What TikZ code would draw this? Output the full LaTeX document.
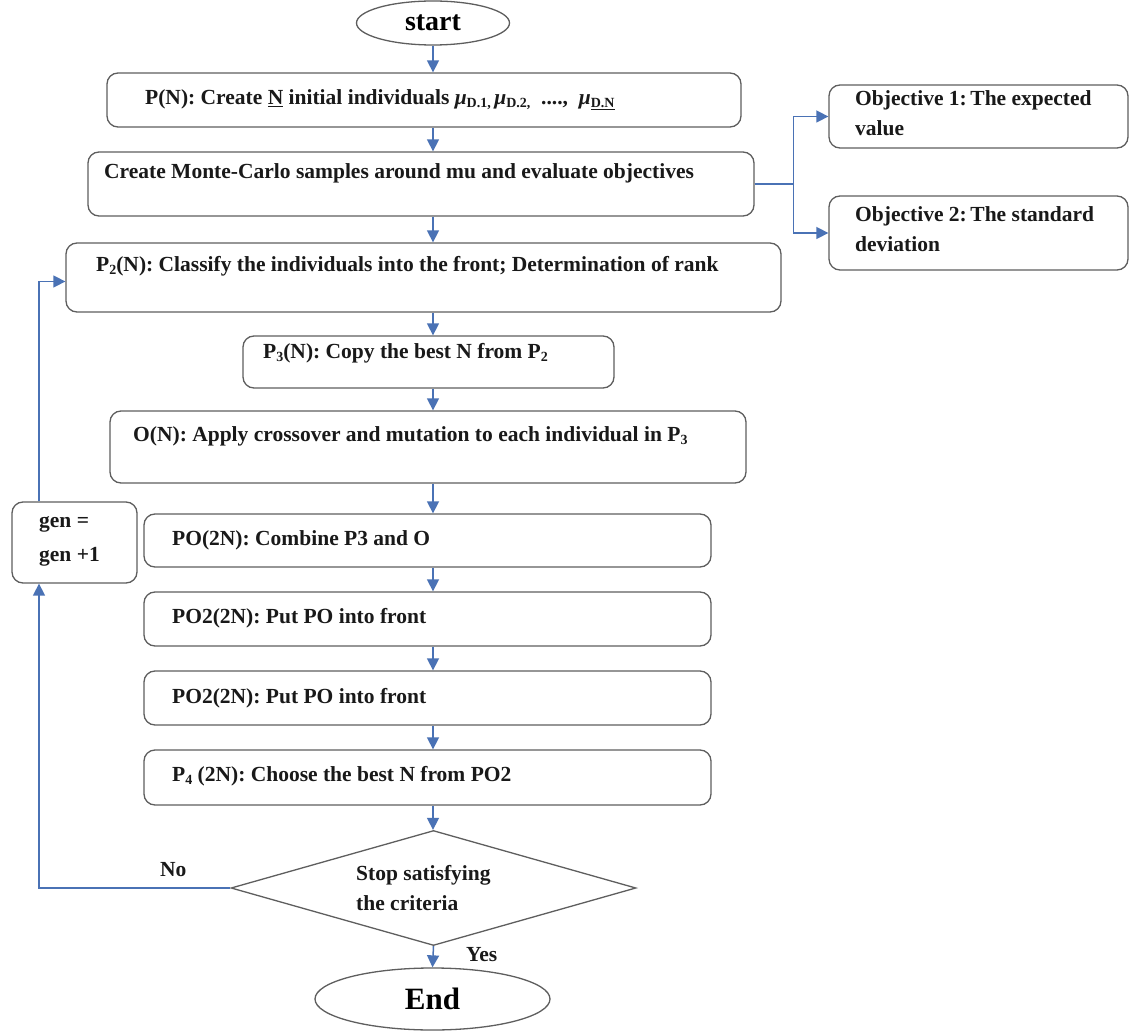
\documentclass[tikz,border=0pt]{standalone}
\usepackage{fontspec}
\setmainfont{Liberation Serif}
\usetikzlibrary{shapes.geometric,arrows.meta}
\definecolor{lnblue}{HTML}{4A72B5}
\definecolor{bxgray}{HTML}{5E5E5E}
\newcommand{\lsub}[1]{\raisebox{-3pt}{\fontsize{14}{14}\selectfont #1}}
\newcommand{\mysub}[1]{{\itshape μ}\raisebox{-3pt}{\fontsize{14}{14}\selectfont #1}}
\tikzset{
  box/.style={draw=bxgray, line width=1.3pt, rounded corners=11pt, inner sep=0pt},
  ell/.style={draw=bxgray, line width=1.3pt, ellipse, inner sep=0pt},
  txt/.style={font=\fontsize{21.5}{30}\selectfont\bfseries, anchor=west, inner sep=0pt, align=left, text=black!90},
  arr/.style={draw=lnblue, line width=1.5pt, -{Triangle[length=12pt,width=12pt]}},
}
\begin{document}
\begin{tikzpicture}[x=1pt,y=-1pt]
\useasboundingbox (0,0) rectangle (1130,1032);
\fill[white] (0,0) rectangle (1130,1032);

\node[ell, minimum width=153pt, minimum height=44pt, font=\fontsize{28}{28}\selectfont\bfseries] (start) at (433,23) {start};
\node[box, minimum width=634pt, minimum height=54pt] (pn) at (424,100) {};
\node[txt] (pnt) at (145,100) {P(N):\ Create \underline{N} initial individuals \mysub{D.1}\lsub{,}\,\mysub{D.2}\lsub{,}\ \ ....,\ \ \mysub{\underline{D.N}}};
\node[box, minimum width=666pt, minimum height=64pt] (mc) at (421,184) {};
\node[txt] (mct) at (104,173) {Create Monte-Carlo samples around mu and evaluate objectives};
\node[box, minimum width=299pt, minimum height=63pt] (obj1) at (978.5,116.5) {};
\node[txt] (obj1t) at (855,113) {Objective 1:\,The expected\\value};
\node[box, minimum width=299pt, minimum height=74pt] (obj2) at (978.5,233) {};
\node[txt] (obj2t) at (855,229) {Objective 2:\,The standard\\deviation};
\node[box, minimum width=715pt, minimum height=69pt] (p2) at (423.5,277.5) {};
\node[txt] (p2t) at (96,266) {P\lsub{2}(N):\ Classify the individuals into the front; Determination of rank};
\node[box, minimum width=371pt, minimum height=52pt] (p3) at (428.5,362) {};
\node[txt] (p3t) at (263,353) {P\lsub{3}(N):\ Copy the best N from P\lsub{2}};
\node[box, minimum width=636pt, minimum height=72pt] (on) at (428,447) {};
\node[txt] (ont) at (133,436) {O(N):\ Apply crossover and mutation to each individual in P\lsub{3}};
\node[box, minimum width=125pt, minimum height=81pt] (gen) at (74.5,542.5) {};
\node[txt, font=\fontsize{21.5}{34}\selectfont\bfseries] (gent) at (39,541) {gen =\\gen +1};
\node[box, minimum width=567pt, minimum height=53pt] (po) at (427.5,540.5) {};
\node[txt] (pot) at (172,540) {PO(2N):\ Combine P3 and O};
\node[box, minimum width=567pt, minimum height=54pt] (poa) at (427.5,619) {};
\node[txt] (poat) at (172,618) {PO2(2N):\ Put PO into front};
\node[box, minimum width=567pt, minimum height=54pt] (pob) at (427.5,698) {};
\node[txt] (pobt) at (172,698) {PO2(2N):\ Put PO into front};
\node[box, minimum width=567pt, minimum height=55pt] (p4) at (427.5,777.5) {};
\node[txt] (p4t) at (172,776) {P\lsub{4} (2N):\ Choose the best N from PO2};
\node[draw=bxgray, line width=1.3pt, diamond, inner sep=0pt, minimum width=405pt, minimum height=115pt] (dia) at (433.5,888) {};
\node[txt] (diat) at (356,888) {Stop satisfying\\the criteria};
\node[ell, minimum width=235pt, minimum height=62pt, font=\fontsize{31}{31}\selectfont\bfseries] (end) at (432.5,999) {End};
\node[txt] (no) at (160,870) {No};
\node[txt] (yes) at (466,955) {Yes};

\coordinate (lx) at (39,0);
\draw[arr] (start.south) -- (start.south |- pn.north);
\draw[arr] (start.south |- pn.south) -- (start.south |- mc.north);
\draw[arr] (start.south |- mc.south) -- (start.south |- p2.north);
\draw[arr] (start.south |- p2.south) -- (start.south |- p3.north);
\draw[arr] (start.south |- p3.south) -- (start.south |- on.north);
\draw[arr] (start.south |- on.south) -- (start.south |- po.north);
\draw[arr] (start.south |- po.south) -- (start.south |- poa.north);
\draw[arr] (start.south |- poa.south) -- (start.south |- pob.north);
\draw[arr] (start.south |- pob.south) -- (start.south |- p4.north);
\draw[arr] (start.south |- p4.south) -- (start.south |- dia.north);
\draw[arr] (dia.south) -- (end.north);
\draw[arr] (mc.east) -- ++(39,0) |- (obj1.west);
\draw[arr] (mc.east) -- ++(39,0) |- (obj2.west);
\draw[arr] (dia.west) -| (lx |- gen.south);
\draw[arr] (lx |- gen.north) |- ([yshift=-4pt]p2.west);
\end{tikzpicture}
\end{document}
